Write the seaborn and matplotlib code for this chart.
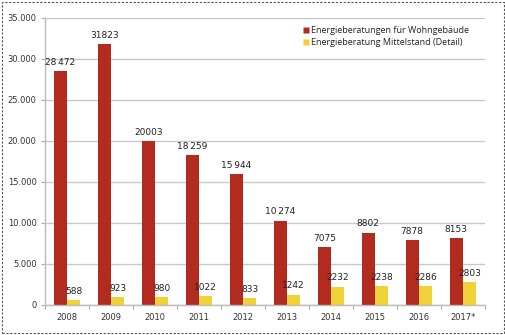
import matplotlib
matplotlib.use("Agg")
import matplotlib.pyplot as plt
import seaborn as sns
import pandas as pd
import numpy as np
from matplotlib.patches import Rectangle
from matplotlib.lines import Line2D

years = ["2008", "2009", "2010", "2011", "2012", "2013", "2014", "2015", "2016", "2017*"]
wohn = [28472, 31823, 20003, 18259, 15944, 10274, 7075, 8802, 7878, 8153]
mittel = [588, 923, 980, 1022, 833, 1242, 2232, 2238, 2286, 2803]
wohn_labels = ["28\u2009472", "31823", "20003", "18\u2009259", "15\u2009944", "10\u2009274", "7075", "8802", "7878", "8153"]
mittel_labels = ["588", "923", "980", "1022", "833", "1242", "2232", "2238", "2286", "2803"]
series = ["Energieberatungen für Wohngebäude", "Energieberatung Mittelstand (Detail)"]
colors = ["#B32A1F", "#EED237"]
yticks = [0, 5000, 10000, 15000, 20000, 25000, 30000, 35000]
ytick_labels = ["0", "5.000", "10.000", "15.000", "20.000", "25.000", "30.000", "35.000"]

df = pd.DataFrame({
    "Jahr": years * 2,
    "Wert": wohn + mittel,
    "Serie": [series[0]] * len(years) + [series[1]] * len(years),
})

sns.set_theme(style="white")
plt.rcParams['font.family'] = ['DejaVu Sans']

fig = plt.figure(figsize=(5.06, 3.35), dpi=100)
ax = fig.add_axes([0.089, 0.09, 0.869, 0.857])

sns.barplot(data=df, x="Jahr", y="Wert", hue="Serie", palette=colors,
            width=0.6, gap=0, ax=ax, legend=False, saturation=1, edgecolor="none")

ax.set_ylim(0, 35000)
ax.set_xlim(-0.5, len(years) - 0.5)
ax.set_yticks(yticks)
ax.set_yticklabels(ytick_labels, fontsize=6, color="#333333")
ax.yaxis.grid(True, color="#C8C8C8", linewidth=1)
ax.set_axisbelow(True)
ax.set_xlabel("")
ax.set_ylabel("")
ax.tick_params(axis="y", length=3, width=0.8, color="#AAAAAA", pad=3, left=True)
ax.set_xticks(range(len(years)))
ax.set_xticklabels(years, fontsize=6, color="#333333")
ax.tick_params(axis="x", which="major", length=0, pad=6)
ax.set_xticks(np.arange(-0.5, len(years), 1.0), minor=True)
ax.tick_params(axis="x", which="minor", length=3, width=0.8, color="#AAAAAA", bottom=True)
for s in ["top", "right"]:
    ax.spines[s].set_visible(False)
for s in ["left", "bottom"]:
    ax.spines[s].set_color("#BBBBBB")
    ax.spines[s].set_linewidth(1)

# value labels
for container, labels in zip(ax.containers, [wohn_labels, mittel_labels]):
    ax.bar_label(container, labels=labels, padding=3, fontsize=6.5, color="#222222")

# legend
handles = [Line2D([], [], marker="s", linestyle="none", markersize=5,
                  markerfacecolor=c, markeredgecolor="none") for c in colors]
leg = ax.legend(handles, series, loc="upper right", bbox_to_anchor=(0.977, 0.99),
                frameon=False, fontsize=6.5, handlelength=0.6, handletextpad=0.3,
                labelspacing=0.35, borderaxespad=0.2)
for t in leg.get_texts():
    t.set_fontfamily("Open Sans")
    t.set_color("#222222")

# dashed border
fig.patches.append(Rectangle((0.004, 0.006), 0.992, 0.988, transform=fig.transFigure,
                             fill=False, edgecolor="#555555", linestyle=(0, (2, 1.5)),
                             linewidth=0.8))

fig.savefig("out.png", dpi=100)
